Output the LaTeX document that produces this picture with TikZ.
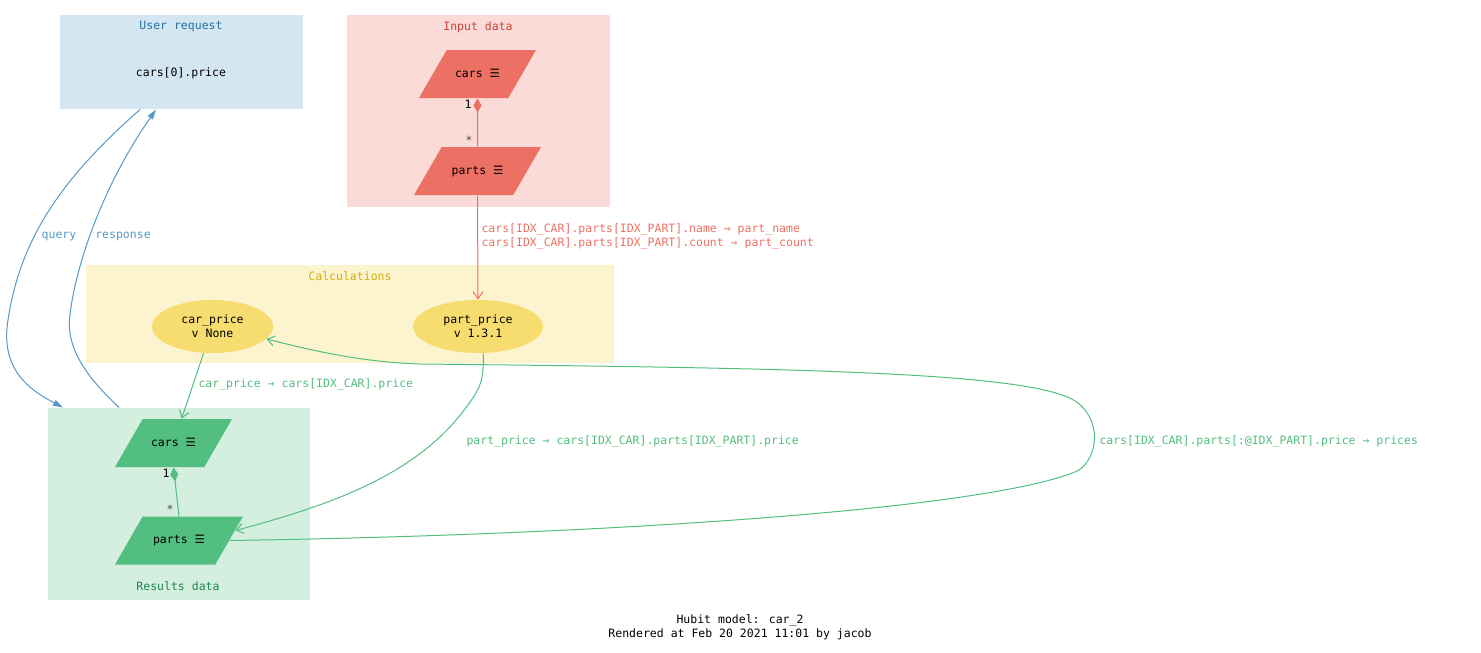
\documentclass[tikz,border=0pt]{standalone}
\usepackage{fontspec}
\setmainfont{DejaVu Sans Mono}
\newfontfamily\symfont{DejaVu Sans}
\usetikzlibrary{positioning,shapes.geometric,arrows.meta}

\definecolor{azulfondo}{HTML}{D4E6F1}
\definecolor{azultexto}{HTML}{2471A3}
\definecolor{azularista}{HTML}{5499C7}
\definecolor{rojofondo}{HTML}{FADBD8}
\definecolor{rojonodo}{HTML}{EC7063}
\definecolor{rojotexto}{HTML}{CB4335}
\definecolor{amarillofondo}{HTML}{FCF3CF}
\definecolor{amarillonodo}{HTML}{F7DC6F}
\definecolor{amarillotexto}{HTML}{D4AC0D}
\definecolor{verdefondo}{HTML}{D4EFDF}
\definecolor{verdenodo}{HTML}{52BE80}
\definecolor{verdetexto}{HTML}{1E8449}

\newcommand{\menu}{{\symfont ☰}}

\begin{document}
\begin{tikzpicture}[x=1pt, y=-1pt, line width=1pt,
    every node/.style={font=\fontsize{11.5}{14}\selectfont, inner sep=0pt},
    caja/.style={rectangle, minimum width=#1},
    datos/.style={trapezium, trapezium left angle=60, trapezium right angle=120,
        trapezium stretches body, text height=9pt, text depth=3pt, inner ysep=18pt,
        minimum width=#1},
    calculo/.style={ellipse, fill=amarillonodo, minimum height=53pt, minimum width=#1},
    flecha/.style={-{Straight Barb[length=7pt,width=10pt]}},
    flechaazul/.style={draw=azularista, -{Triangle[length=10pt,width=6pt]}}]
    \useasboundingbox (0,0) rectangle (1481,653);

    % Definición de los grupos
    \node[caja=243pt, minimum height=94pt, fill=azulfondo] (ureq) at (181.5,62) {};
    \node[caja=263pt, minimum height=192pt, fill=rojofondo] (uin) at (478.5,111) {};
    \node[caja=528pt, minimum height=98pt, fill=amarillofondo] (ucalc) at (350,314) {};
    \node[caja=262pt, minimum height=192pt, fill=verdefondo] (ures) at (179,504) {};

    \node[text=azultexto] (treq) at (181,27) {User request};
    \node[text=rojotexto] (tin) at (478,27) {Input data};
    \node[text=amarillotexto] (tcalc) at (350,276) {Calculations};
    \node[text=verdetexto] (tres) at (178,586) {Results data};

    % Definición de los nodos
    \node (req) at (181,73) {cars[0].price};
    \node[datos=117pt, fill=rojonodo] (icars) at (477.5,74) {cars \menu};
    \node[datos=127pt, fill=rojonodo] (iparts) at (477.5,171) {parts \menu};
    \node[calculo=121pt, align=center] (cp) at (212.5,326.5) {car\_price\\v None};
    \node[calculo=130pt, align=center] (pp) at (478,326.5) {part\_price\\v 1.3.1};
    \node[datos=117pt, fill=verdenodo] (rcars) at (173.5,443) {cars \menu};
    \node[datos=128pt, fill=verdenodo] (rparts) at (179,540.5) {parts \menu};

    % Definición de las aristas
    \draw[flechaazul] ([xshift=-41.5pt]ureq.south) .. controls (60,180) and (20,240) .. (8,320)
        .. controls (0,370) and (30,390) .. ([xshift=-116pt]ures.north);
    \draw[flechaazul] ([xshift=-60pt]ures.north) .. controls (90,380) and (65,350) .. (70,315)
        .. controls (75,270) and (100,190) .. ([xshift=-25.5pt]ureq.south);
    \node[text=azularista] (lquery) at (59,236) {query};
    \node[text=azularista] (lresp) at (123,236) {response};

    \draw[rojonodo, {Diamond[length=14pt,width=8pt]}-] (icars.south) -- (iparts.north);
    \node (u1) at (468,104) {1};
    \node[text=black!70] (u2) at (469,140) {*};
    \draw[verdenodo, {Diamond[length=14pt,width=8pt]}-] (rcars.south) -- (rparts.north);
    \node (r1) at (166,473) {1};
    \node[text=black!70] (r2) at (170,509) {*};

    \draw[rojonodo, flecha] (iparts.south) -- (pp.north);
    \node[text=rojonodo, anchor=west, align=left] (lin) at (481,236)
        {cars[IDX\_CAR].parts[IDX\_PART].name → part\_name\\cars[IDX\_CAR].parts[IDX\_PART].count → part\_count};

    \draw[verdenodo, flecha] (cp) -- (rcars);
    \node[text=verdenodo, anchor=west] (lcar) at (198,384) {car\_price → cars[IDX\_CAR].price};

    \draw[verdenodo, flecha] (pp.-79) .. controls (484,380) and (480,388) .. (470,402)
        .. controls (420,475) and (330,505) .. (rparts.10);
    \node[text=verdenodo, anchor=west] (lpart) at (466,441) {part\_price → cars[IDX\_CAR].parts[IDX\_PART].price};

    \draw[verdenodo, flecha] (rparts.east) .. controls (600,535) and (980,510) .. (1075,472)
        .. controls (1095,464) and (1105,425) .. (1078,403)
        .. controls (1040,372) and (800,368) .. (420,364)
        .. controls (360,362) and (310,350) .. (cp.-13);
    \node[text=verdenodo, anchor=west] (lprices) at (1099,441) {cars[IDX\_CAR].parts[:@IDX\_PART].price → prices};

    % Pie del dibujo
    \node[align=center] (pie) at (740,627) {Hubit model: car\_2\\Rendered at Feb 20 2021 11:01 by jacob};
\end{tikzpicture}
\end{document}
